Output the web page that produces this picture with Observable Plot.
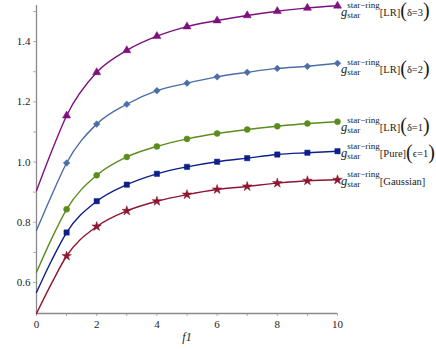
<!DOCTYPE html>
<html><head><meta charset="utf-8">
<script src="https://cdn.jsdelivr.net/npm/d3@7"></script>
<script src="https://cdn.jsdelivr.net/npm/@observablehq/plot@0.6"></script>
<style>body{margin:0;background:#fff} svg{display:block} svg text{font-family:'Liberation Serif','DejaVu Serif',serif}</style>
</head><body><div id="chart"></div>
<script>
// ---- data ----
const fValues = [0, 1, 2, 3, 4, 5, 6, 7, 8, 9, 10];
const seriesNames = ["LR δ=3", "LR δ=2", "LR δ=1", "Pure ϵ=1", "Gaussian"];
const lrDelta3 = [0.905, 1.154, 1.298, 1.371, 1.418, 1.450, 1.470, 1.487, 1.501, 1.512, 1.519];
const lrDelta2 = [0.773, 0.997, 1.126, 1.192, 1.237, 1.262, 1.283, 1.298, 1.311, 1.318, 1.328];
const lrDelta1 = [0.634, 0.843, 0.956, 1.017, 1.052, 1.077, 1.095, 1.108, 1.119, 1.128, 1.134];
const pureEps1 = [0.567, 0.766, 0.870, 0.925, 0.961, 0.984, 1.001, 1.013, 1.025, 1.031, 1.036];
const gaussian = [0.497, 0.688, 0.786, 0.838, 0.870, 0.892, 0.909, 0.919, 0.930, 0.938, 0.941];
// curve values read at f = 0.5 (no marker there)
const halfStepF = 0.5;
const halfStepValues = [1.035, 0.889, 0.745, 0.673, 0.597];
const labelBracket = ["LR", "LR", "LR", "Pure", "Gaussian"];
const labelParam = ["δ=3", "δ=2", "δ=1", "ϵ=1", ""];
const xDomain = [0, 10];
const yDomain = [0.497, 1.52];
const xTicks = [0, 1, 2, 3, 4, 5, 6, 7, 8, 9, 10];
const xTickLabels = [0, 2, 4, 6, 8, 10];
const yTicks = [0.6, 0.7, 0.8, 0.9, 1.0, 1.1, 1.2, 1.3, 1.4, 1.5];
const yTickLabels = [0.6, 0.8, 1.0, 1.2, 1.4];
const axisTitle = "f1";

// ---- styles ----
const colors = ["#7f0f7e", "#4a6ea6", "#5b8c1c", "#0c1f8a", "#8c1730"];
const symbols = ["triangle", "diamond2", "circle", "square", "star"];
const labelShift = [10, 10, 9, 6, 5];

const allSeries = [lrDelta3, lrDelta2, lrDelta1, pureEps1, gaussian];
const rows = [];
const lineRows = [];
allSeries.forEach((vals, i) => {
  vals.forEach((v, j) => {
    const r = {series: seriesNames[i], f: fValues[j], value: v};
    rows.push(r);
    lineRows.push(r);
    if (j === 0) lineRows.push({series: seriesNames[i], f: halfStepF, value: halfStepValues[i]});
  });
});

const labelKey = i => "LBL" + i;
const font = "'Liberation Serif', 'DejaVu Serif', serif";
const plot = Plot.plot({
  width: 436, height: 349,
  marginLeft: 36, marginRight: 99, marginTop: 5, marginBottom: 36,
  x: {domain: xDomain},
  y: {domain: yDomain},
  color: {domain: seriesNames, range: colors},
  symbol: {domain: seriesNames, range: symbols},
  style: {fontFamily: font, fontSize: "11px", background: "white", color: "#222"},
  marks: [
    Plot.axisY({ticks: yTicks, tickSize: 3, tickFormat: () => "", stroke: "#b0b0b0", label: null}),
    Plot.axisY({ticks: yTickLabels, tickSize: 0, tickPadding: 6, tickFormat: d => d.toFixed(1), label: null, fill: "#222"}),
    Plot.axisX({ticks: xTicks, tickSize: 3, tickFormat: () => "", stroke: "#b0b0b0", label: null}),
    Plot.axisX({ticks: xTickLabels, tickSize: 0, tickPadding: 7, tickFormat: d => String(d), label: null, fill: "#222"}),
    Plot.ruleX([xDomain[0]], {stroke: "#8a8a8a", strokeWidth: 1.3}),
    Plot.ruleY([yDomain[0]], {stroke: "#8a8a8a", strokeWidth: 1.3}),
    Plot.line(lineRows, {x: "f", y: "value", z: "series", stroke: "series", curve: "monotone-x", strokeWidth: 1.4}),
    Plot.dot(rows.filter(d => d.f >= 1), {x: "f", y: "value", symbol: "series", fill: "series", stroke: "series", strokeWidth: 0.5, r: 3}),
    ...seriesNames.map((s, i) => Plot.text(rows.filter(d => d.series === s && d.f === fValues[fValues.length - 1]), {
      x: "f", y: "value", text: () => labelKey(i),
      dx: 3.5, dy: labelShift[i], textAnchor: "start", lineAnchor: "bottom", fill: "#1a1a1a"
    })),
    Plot.text([axisTitle], {frameAnchor: "bottom", dy: 27, text: d => d, fontStyle: "italic", fontSize: 12, fill: "#222"})
  ]
});
document.getElementById("chart").append(plot);

const allTexts = d3.select(plot).selectAll("text");
seriesNames.forEach((s, i) => {
  const t = allTexts.filter(function () { return this.textContent === labelKey(i); });
  if (t.empty()) return;
  t.text(null);
  t.append("tspan").attr("font-style", "italic").attr("font-size", 12.5).text("g");
  const sub = t.append("tspan").attr("font-size", 9).attr("dy", 2).text("star");
  const w = sub.node().getComputedTextLength();
  t.append("tspan").attr("font-size", 9).attr("dx", -w).attr("dy", -10).text("star−ring");
  t.append("tspan").attr("font-size", 10.5).attr("dy", 8).text("[" + labelBracket[i] + "]");
  if (labelParam[i]) {
    t.append("tspan").attr("font-size", 20).attr("dy", 1.5).text("(");
    t.append("tspan").attr("font-size", 10.5).attr("dy", -1.5).text(labelParam[i]);
    t.append("tspan").attr("font-size", 20).attr("dy", 1.5).text(")");
  }
});
</script>
</body></html>
